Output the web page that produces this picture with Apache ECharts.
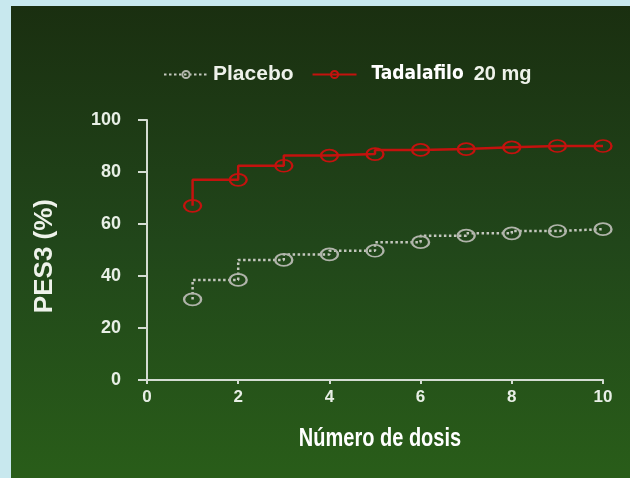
<!DOCTYPE html>
<html>
<head>
<meta charset="utf-8">
<script src="https://cdn.jsdelivr.net/npm/echarts@6/dist/echarts.min.js"></script>
<style>
  html, body { margin: 0; padding: 0; background: #c8e8ee; }
  #chart {
    position: absolute; left: 11px; top: 6px; width: 619px; height: 472px;
    background: linear-gradient(to bottom, #1a2f10 0%, #21461a 50%, #295d19 100%);
  }
</style>
</head>
<body>
<div id="chart"></div>
<script>
// datos
const doses = [1, 2, 3, 4, 5, 6, 7, 8, 9, 10];
const placebo = [31, 38.5, 46.2, 48.3, 49.7, 53, 55.5, 56.4, 57.3, 58];
const tadalafilo = [67, 77, 82.4, 86.3, 86.9, 88.5, 88.8, 89.5, 90, 90];
const xTicks = [0, 2, 4, 6, 8, 10];
const yTicks = [0, 20, 40, 60, 80, 100];

const chart = echarts.init(document.getElementById('chart'));

const axisColor = '#d4dcd2';
const labelColor = '#e8efe6';
const condensed = '"DejaVu Sans Condensed", "DejaVu Sans", sans-serif';
const arial = '"Liberation Sans", Arial, sans-serif';

const option = {
  animation: false,
  grid: { left: 136, right: 27, top: 114, bottom: 98 },
  legend: {
    left: 147,
    top: 53,
    itemWidth: 44,
    itemHeight: 9,
    itemGap: 18,
    data: ['Placebo', 'Tadalafilo'],
    formatter: name => name === 'Placebo' ? '{p|Placebo}' : '{g|}{t|Tadalafilo}   {m|20 mg}',
    textStyle: {
      rich: {
        g: { width: 10 },
        p: { fontFamily: arial, fontWeight: 'bold', fontSize: 21, color: '#eef2ea' },
        t: { fontFamily: condensed, fontWeight: 'bold', fontSize: 19, color: '#ffffff' },
        m: { fontFamily: arial, fontWeight: 'bold', fontSize: 20, color: '#eef2ea' }
      }
    }
  },
  xAxis: {
    type: 'value',
    min: xTicks[0],
    max: xTicks[xTicks.length - 1],
    interval: 2,
    axisLine: { lineStyle: { color: axisColor, width: 2 } },
    axisTick: { length: 4, lineStyle: { color: axisColor, width: 2 } },
    axisLabel: { margin: 9, fontFamily: arial, fontWeight: 'bold', fontSize: 17, color: labelColor },
    splitLine: { show: false }
  },
  yAxis: {
    type: 'value',
    min: yTicks[0],
    max: yTicks[yTicks.length - 1],
    interval: 20,
    axisLine: { show: true, lineStyle: { color: axisColor, width: 2 } },
    axisTick: { show: true, length: 9, lineStyle: { color: axisColor, width: 2 } },
    axisLabel: { margin: 26, fontFamily: arial, fontWeight: 'bold', fontSize: 18, color: labelColor },
    splitLine: { show: false }
  },
  graphic: [
    {
      // título del eje Y
      type: 'text',
      left: 21,
      top: 193,
      rotation: Math.PI / 2,
      style: {
        text: 'PES3 (%)',
        fontFamily: arial, fontWeight: 'bold', fontSize: 26, fill: '#eef2ea'
      }
    },
    {
      // título del eje X, letra estrecha
      type: 'text',
      x: 369,
      y: 433,
      scaleX: 0.8,
      style: {
        text: 'Número de dosis',
        align: 'center',
        verticalAlign: 'middle',
        fontFamily: arial, fontWeight: 'bold', fontSize: 25, fill: '#ffffff'
      }
    }
  ],
  series: [
    {
      name: 'Placebo',
      type: 'line',
      step: 'start',
      data: doses.map((d, i) => [d, placebo[i]]),
      symbol: 'circle',
      symbolSize: [17, 12],
      lineStyle: { color: '#c4c7be', width: 2.5, type: [2.5, 2.5] },
      itemStyle: { color: 'transparent', borderColor: '#b0b4aa', borderWidth: 2 }
    },
    {
      name: 'Tadalafilo',
      type: 'line',
      step: 'start',
      data: doses.map((d, i) => [d, tadalafilo[i]]),
      symbol: 'circle',
      symbolSize: [17, 12],
      lineStyle: { color: '#c4120e', width: 2.5 },
      itemStyle: { color: 'transparent', borderColor: '#c4120e', borderWidth: 2 }
    }
  ]
};

chart.setOption(option);
</script>
</body>
</html>
